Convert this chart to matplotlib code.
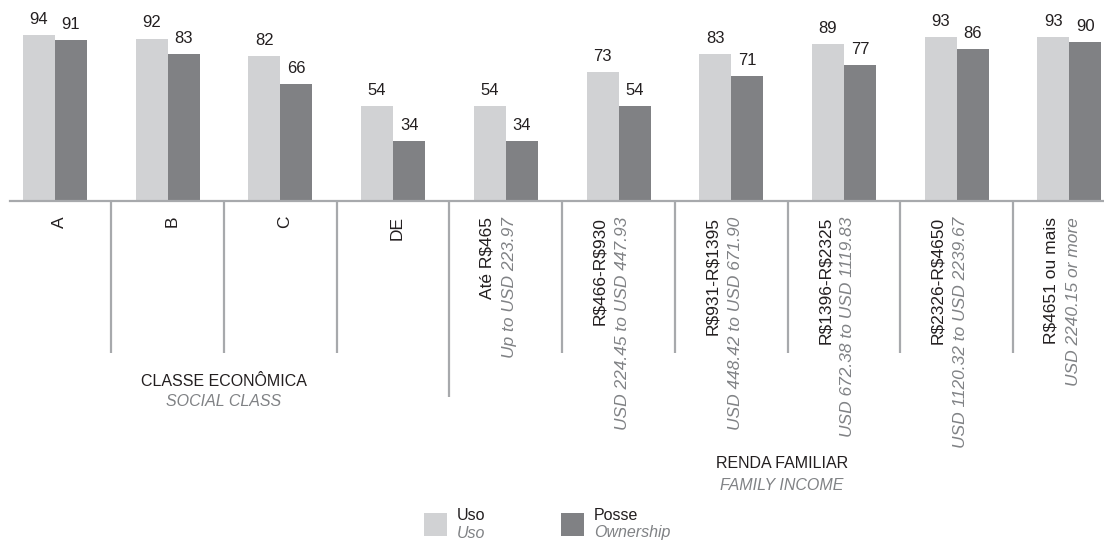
import numpy as np
import matplotlib
matplotlib.use('Agg')
import matplotlib.pyplot as plt
from matplotlib.patches import Rectangle
from matplotlib.transforms import blended_transform_factory

plt.rcParams['font.family'] = ['Liberation Sans', 'DejaVu Sans']
plt.rcParams['text.parse_math'] = False

# data
categories = ['A', 'B', 'C', 'DE', 'Até R$465', 'R$466-R$930', 'R$931-R$1395',
              'R$1396-R$2325', 'R$2326-R$4650', 'R$4651 ou mais']
categories_en = ['', '', '', '', 'Up to USD 223.97', 'USD 224.45 to USD 447.93',
                 'USD 448.42 to USD 671.90', 'USD 672.38 to USD 1119.83',
                 'USD 1120.32 to USD 2239.67', 'USD 2240.15 or more']
uso = [94, 92, 82, 54, 54, 73, 83, 89, 93, 93]
posse = [91, 83, 66, 34, 34, 54, 71, 77, 86, 90]
n_social = 4
series_pt = ['Uso', 'Posse']
series_en = ['Uso', 'Ownership']

light = '#d1d2d4'
dark = '#808184'
line_c = '#a7a9ac'
txt_c = '#231f20'
grey_c = '#808285'
fs = 11.5
fs_rot = 12.5
fs_val = 12

W, H = 1104, 542
base_px = 201       # baseline, pixels from top
px_per_unit = 1.766
group_px = 112.7
x0_px = 55

fig = plt.figure(figsize=(W / 100, H / 100), dpi=100, facecolor='white')
ax_h = 100 * px_per_unit
ax = fig.add_axes([10 / W, (H - base_px) / H, (W - 10) / W, ax_h / H])
ax.set_ylim(0, 100)
ax.set_xlim(-(x0_px - 10) / group_px, (W - x0_px) / group_px)

def fy(py):
    return 1 - py / H

x = np.arange(len(categories))
bw = 32 / group_px
ax.bar(x - bw / 2, uso, bw, color=light, zorder=2)
ax.bar(x + bw / 2, posse, bw, color=dark, zorder=2)
for xi, v in zip(x - bw / 2, uso):
    ax.annotate(str(v), (xi, v), xytext=(0, 8), textcoords='offset points',
                ha='center', va='baseline', fontsize=fs_val, color=txt_c)
for xi, v in zip(x + bw / 2, posse):
    ax.annotate(str(v), (xi, v), xytext=(0, 8), textcoords='offset points',
                ha='center', va='baseline', fontsize=fs_val, color=txt_c)

for s in ['top', 'right', 'left']:
    ax.spines[s].set_visible(False)
ax.spines['bottom'].set_color(line_c)
ax.spines['bottom'].set_linewidth(1.6)
ax.set_xticks([])
ax.set_yticks([])

trans = blended_transform_factory(ax.transData, fig.transFigure)

# dividers between groups
for i in range(len(categories) - 1):
    end = 397 if i == n_social - 1 else 353
    ax.plot([i + 0.5, i + 0.5], [fy(base_px), fy(end)], transform=trans,
            color=line_c, lw=1.6, clip_on=False, solid_capstyle='butt')

# category labels
for i, (c, e) in enumerate(zip(categories, categories_en)):
    if e == '':
        ax.text(i + 0.04, fy(216), c, transform=trans, rotation=90,
                ha='center', va='top', fontsize=fs_rot, color=txt_c)
    else:
        ax.text(i - 0.165, fy(217), c, transform=trans, rotation=90,
                ha='center', va='top', fontsize=fs_rot, color=txt_c)
        ax.text(i + 0.035, fy(217), e, transform=trans, rotation=90,
                ha='center', va='top', fontsize=fs_rot, color=grey_c, style='italic')

# group titles
ax.text((n_social - 1) / 2, fy(382), 'CLASSE ECONÔMICA', transform=trans,
        ha='center', va='center', fontsize=fs, color=txt_c)
ax.text((n_social - 1) / 2, fy(401), 'SOCIAL CLASS', transform=trans,
        ha='center', va='center', fontsize=fs, color=grey_c, style='italic')
mid_inc = (n_social + len(categories) - 1) / 2 - 0.05
ax.text(mid_inc, fy(463), 'RENDA FAMILIAR', transform=trans,
        ha='center', va='center', fontsize=fs, color=txt_c)
ax.text(mid_inc, fy(485), 'FAMILY INCOME', transform=trans,
        ha='center', va='center', fontsize=fs, color=grey_c, style='italic')

# legend
for (lx, col, pt, en) in zip([424, 561], [light, dark], series_pt, series_en):
    fig.add_artist(Rectangle((lx / W, fy(536)), 23 / W, 23 / H,
                             transform=fig.transFigure, color=col, lw=0))
    fig.text((lx + 33) / W, fy(515), pt, ha='left', va='center',
             fontsize=fs, color=txt_c)
    fig.text((lx + 33) / W, fy(533), en, ha='left', va='center',
             fontsize=fs, color=grey_c, style='italic')

fig.savefig('out.png', dpi=100, facecolor='white')
